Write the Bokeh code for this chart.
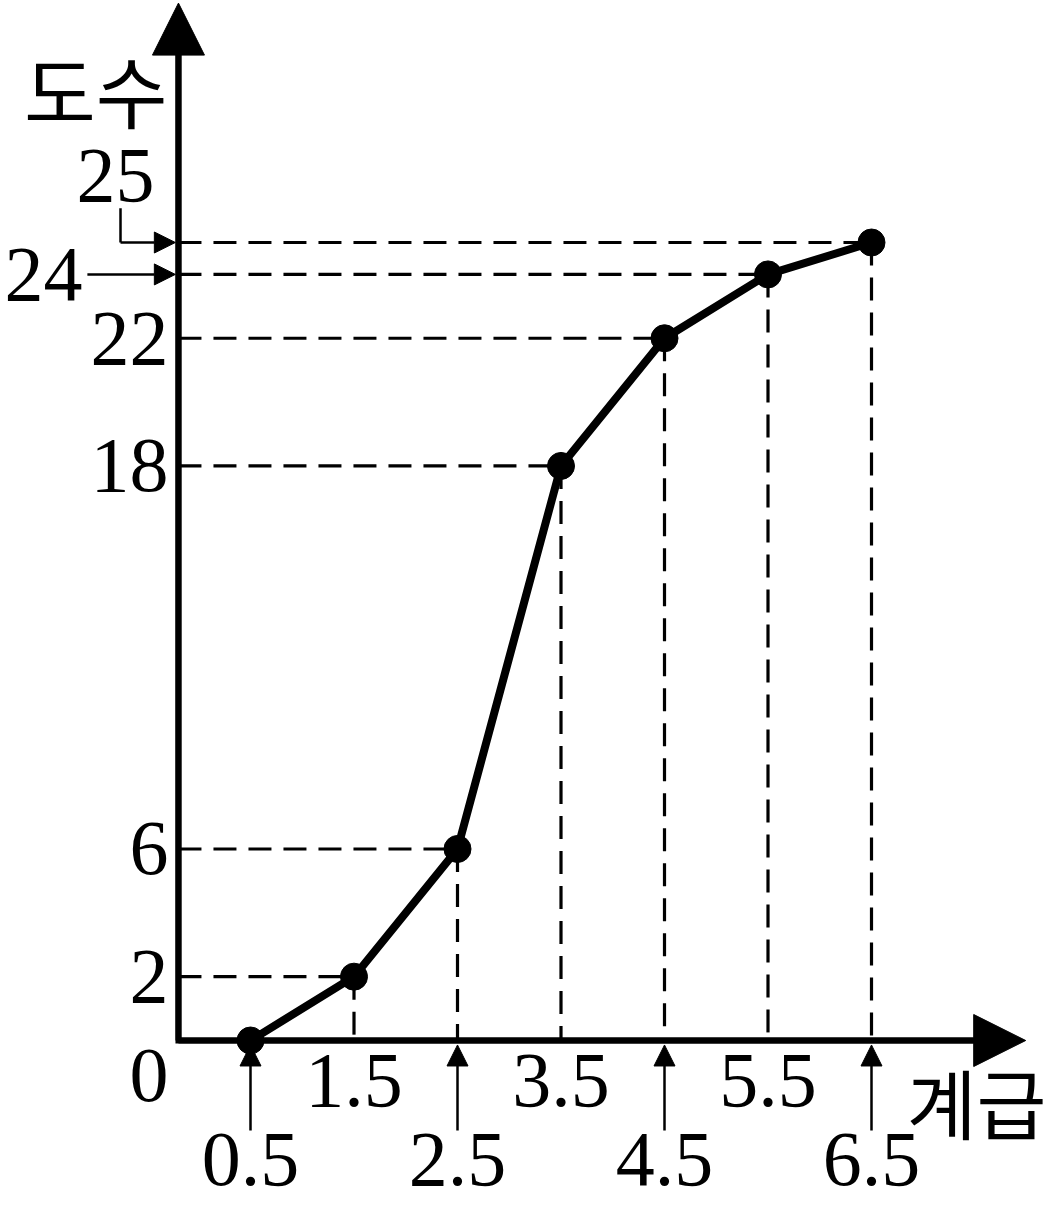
from bokeh.plotting import figure
from bokeh.models import Arrow, NormalHead, ColumnDataSource, Range1d
from bokeh.core.properties import value
from bokeh.embed import file_html
from bokeh.resources import INLINE

# ---- data ----
classes = [0.5, 1.5, 2.5, 3.5, 4.5, 5.5, 6.5]
cum_freq = [0, 2, 6, 18, 22, 24, 25]
x_labels_top = ["1.5", "3.5", "5.5"]
x_labels_bottom = ["0.5", "2.5", "4.5", "6.5"]
y_labels = ["0", "2", "6", "18", "22", "24", "25"]
x_title = "계급"
y_title = "도수"

SERIF = value("Liberation Serif")
CJK = value("Noto Sans CJK KR")

W, H = 1055, 1208
px_per_x = 103.5
px_per_y = 31.92
p = figure(width=W, height=H, output_backend="svg", toolbar_location=None,
           x_range=Range1d(0.5 - 250 / px_per_x, 0.5 + (W - 250) / px_per_x),
           y_range=Range1d((1040 - H) / px_per_y, 1040 / px_per_y),
           x_axis_type=None, y_axis_type=None, min_border=0)
p.grid.visible = False
p.outline_line_color = None
p.background_fill_color = "white"

x0 = -0.196   # axis origin x
y_top = 32.5
x_end = 7.99


def head(s):
    return NormalHead(size=s, fill_color="black", line_color="black", line_width=1)


# dashed guide lines
for xv, yv in zip(classes, cum_freq):
    if yv == 0:
        continue
    p.line([x0, xv], [yv, yv], line_color="black", line_width=3.2, line_dash="23 12")
    p.line([xv, xv], [yv, 0], line_color="black", line_width=3.2, line_dash="23 12")

# axes
p.line([x0, x0, x_end - 0.3], [y_top - 1.0, 0, 0], line_color="black", line_width=6, line_join="miter")
p.add_layout(Arrow(end=head(52), x_start=x0, y_start=0, x_end=x0, y_end=y_top,
                   line_color="black", line_width=6))
p.add_layout(Arrow(end=head(52), x_start=x0, y_start=0, x_end=x_end, y_end=0,
                   line_color="black", line_width=6))

# polygon
p.line(classes, cum_freq, line_color="black", line_width=8)
p.scatter(classes, cum_freq, size=27, fill_color="black", line_color="black")

# small arrows for bottom-row labels
bx = classes[0::2]
src = ColumnDataSource(dict(xs=bx, ys=[-2.82] * len(bx), xe=bx, ye=[-0.14] * len(bx)))
p.add_layout(Arrow(end=head(21), x_start="xs", y_start="ys", x_end="xe", y_end="ye", source=src,
                   line_color="black", line_width=2.5))

# x labels
p.text(classes[1::2], [-1.25] * 3, text=x_labels_top, text_font=SERIF, text_font_size="78px",
       text_align="center", text_baseline="middle", text_color="black")
p.text(bx, [-3.73] * 4, text=x_labels_bottom, text_font=SERIF, text_font_size="78px",
       text_align="center", text_baseline="middle", text_color="black")

# y labels (0, 2, 6, 18, 22)
lab_x = x0 - 0.096
p.text([lab_x] * 5, [-1.1] + cum_freq[1:5], text=y_labels[:5], text_font=SERIF, text_font_size="78px",
       text_align="right", text_baseline="middle", text_color="black")

# 24 with arrow
p.text([x0 - 0.927], [cum_freq[5]], text=[y_labels[5]], text_font=SERIF, text_font_size="78px",
       text_align="right", text_baseline="middle", text_color="black")
p.add_layout(Arrow(end=head(21), x_start=x0 - 0.88, y_start=cum_freq[5], x_end=x0 - 0.03, y_end=cum_freq[5],
                   line_color="black", line_width=2.5))

# 25 with L-shaped arrow
p.text([x0 - 0.608], [cum_freq[6] + 2.1], text=[y_labels[6]], text_font=SERIF, text_font_size="78px",
       text_align="center", text_baseline="middle", text_color="black")
p.line([x0 - 0.56, x0 - 0.56], [cum_freq[6] + 1.07, cum_freq[6]], line_color="black", line_width=2.5)
p.add_layout(Arrow(end=head(21), x_start=x0 - 0.56, y_start=cum_freq[6], x_end=x0 - 0.03, y_end=cum_freq[6],
                   line_color="black", line_width=2.5))

# titles
p.text([x0 - 0.8], [29.82], text=[y_title], text_font=CJK, text_font_size="78px",
       text_align="center", text_baseline="middle", text_color="black")
p.text([6.84], [-1.88], text=[x_title], text_font=CJK, text_font_size="76px",
       text_align="left", text_baseline="middle", text_color="black")

open("out.html", "w").write(file_html(p, INLINE))
